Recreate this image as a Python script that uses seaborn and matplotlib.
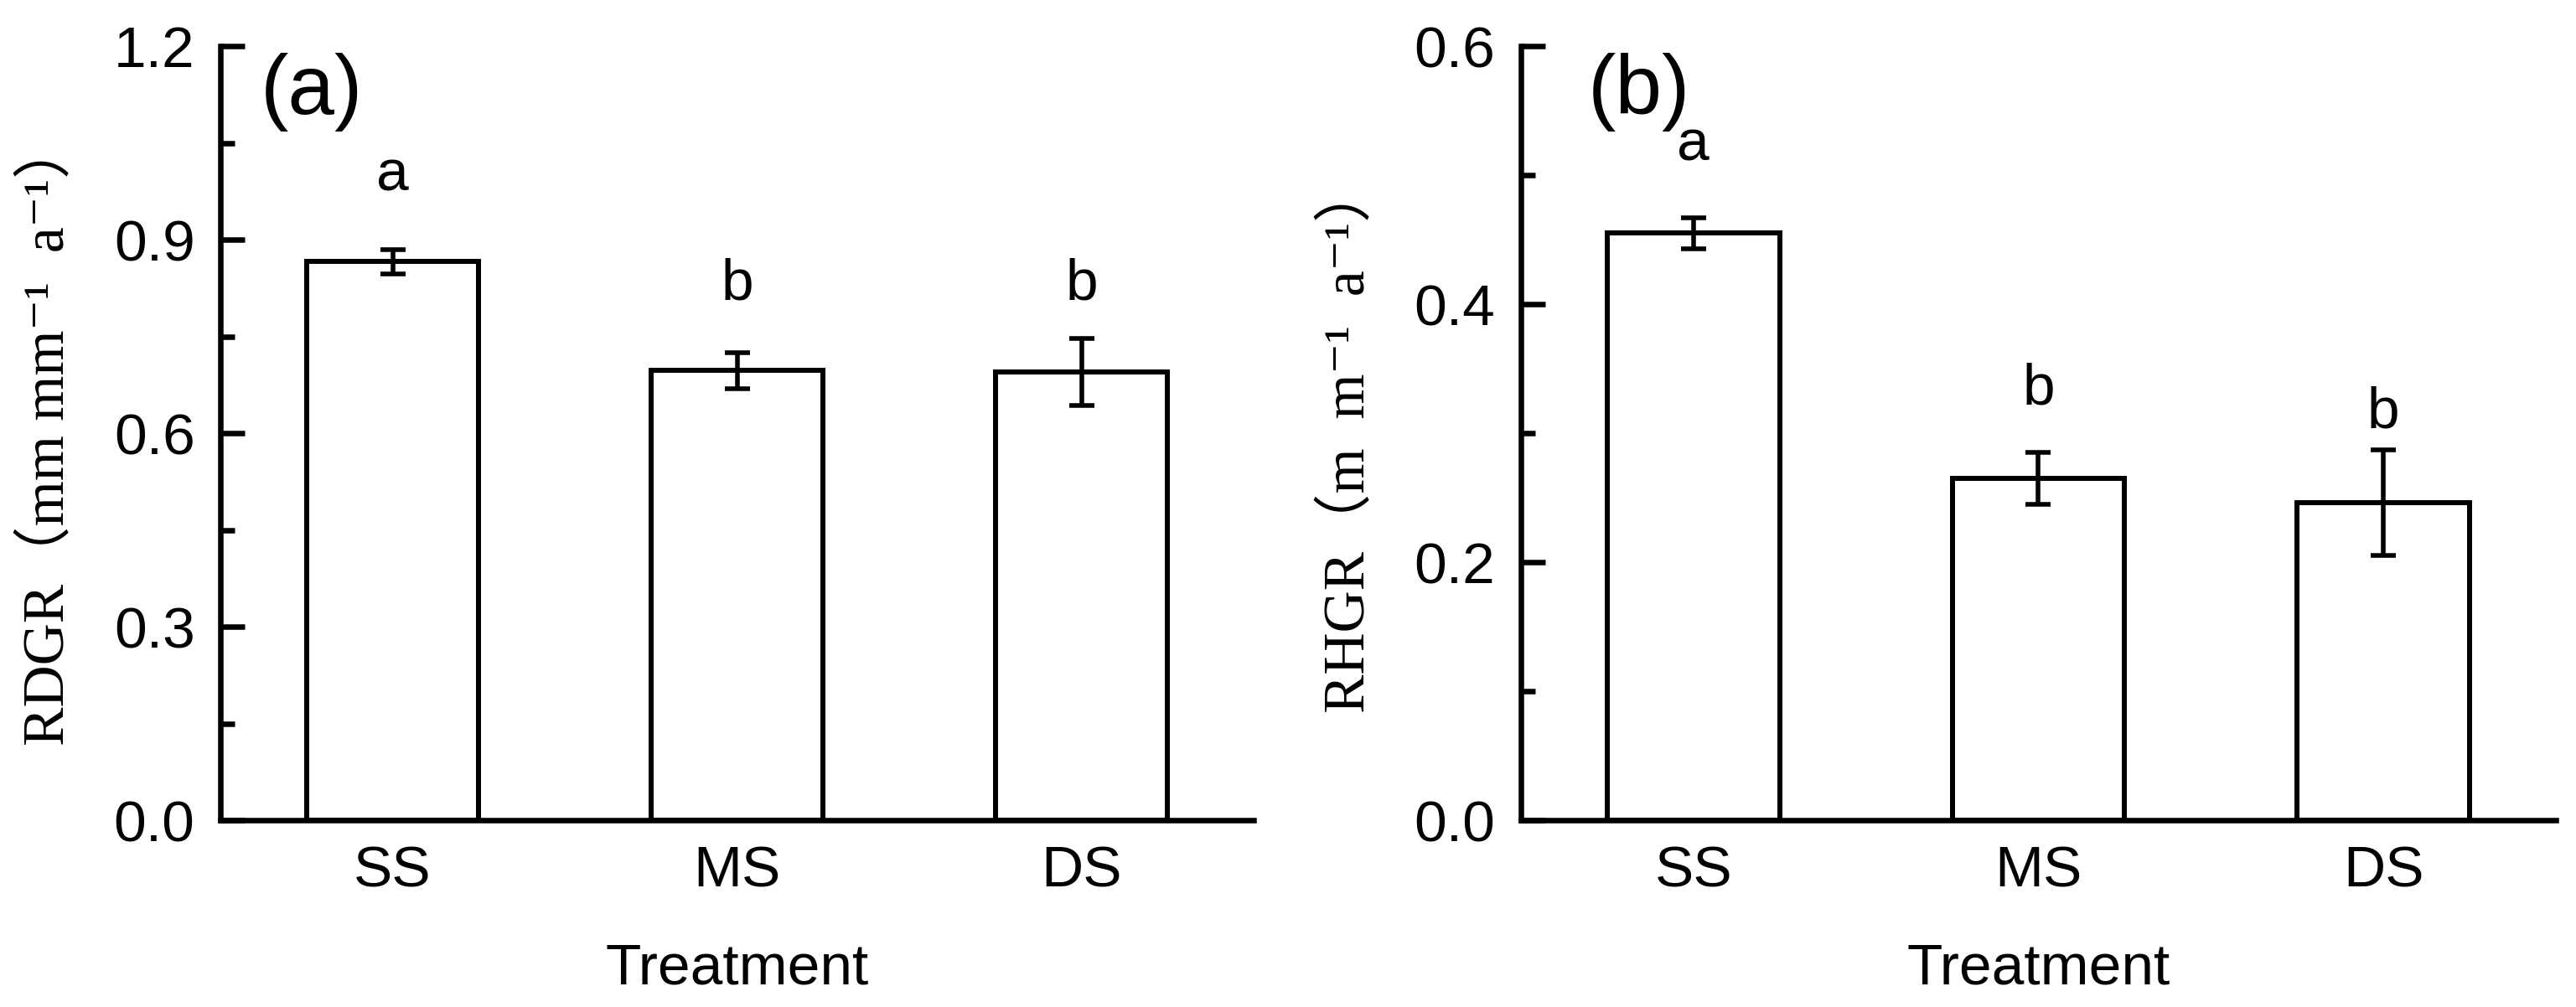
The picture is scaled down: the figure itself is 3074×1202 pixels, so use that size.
import numpy as np
import matplotlib
matplotlib.use("Agg")
import matplotlib.pyplot as plt
from matplotlib.ticker import MultipleLocator, FormatStrFormatter
import seaborn as sns

# 数据
treatments = ["SS", "MS", "DS"]
rdgr_mean = [0.866, 0.697, 0.695]
rdgr_err = [0.019, 0.028, 0.052]
rdgr_letters = ["a", "b", "b"]
rhgr_mean = [0.455, 0.265, 0.246]
rhgr_err = [0.012, 0.020, 0.041]
rhgr_letters = ["a", "b", "b"]

sns.set_style("ticks", rc={"axes.edgecolor": "black", "xtick.color": "black",
                           "ytick.color": "black", "text.color": "black",
                           "axes.labelcolor": "black"})
plt.rcParams['font.family'] = ['Liberation Sans', 'DejaVu Sans']
label_font = ['Liberation Serif', 'Noto Sans CJK SC', 'DejaVu Serif']

fig = plt.figure(figsize=(30.74, 12.02), dpi=100)
ax_a = fig.add_axes([0.0856, 0.1855, 0.4011, 0.7687])
ax_b = fig.add_axes([0.5904, 0.1855, 0.4018, 0.7687])

panels = [
    (ax_a, rdgr_mean, rdgr_err, rdgr_letters, [1.0, 0.83, 0.83], 1.2, 0.3,
     "RDGR（mm mm⁻¹  a⁻¹）", "(a)", 0.088, 0.500),
    (ax_b, rhgr_mean, rhgr_err, rhgr_letters, [0.523, 0.334, 0.316], 0.6, 0.2,
     "RHGR（m  m⁻¹  a⁻¹）", "(b)", 0.114, 0.493),
]

for ax, mean, err, letters, letter_y, ymax, step, ylab, tag, tag_x, lab_y in panels:
    sns.barplot(x=treatments, y=mean, color="white", saturation=1,
                edgecolor="black", linewidth=4.3, width=0.5,
                errorbar=None, ax=ax)
    pos = ax.get_xticks()
    ax.errorbar(pos, mean, yerr=err, fmt="none", ecolor="black",
                elinewidth=4, capsize=11, capthick=4)
    for p, s, ly in zip(pos, letters, letter_y):
        ax.text(p, ly, s, ha="center", va="center", fontsize=50)

    ax.set_xlim(-0.5, 2.5)
    ax.set_ylim(0, ymax)
    ax.yaxis.set_major_locator(MultipleLocator(step))
    ax.yaxis.set_minor_locator(MultipleLocator(step / 2))
    ax.yaxis.set_major_formatter(FormatStrFormatter('%.1f'))

    ax.tick_params(axis="y", which="major", direction="in", length=21,
                   width=4.7, pad=22, labelsize=50)
    ax.tick_params(axis="y", which="minor", direction="in", length=12,
                   width=4.7)
    ax.tick_params(axis="x", length=0, pad=21, labelsize=50)

    for side in ["top", "right"]:
        ax.spines[side].set_visible(False)
    for side in ["left", "bottom"]:
        ax.spines[side].set_linewidth(4.7)

    ax.set_xlabel("Treatment", fontsize=50, labelpad=38)
    ax.set_ylabel(ylab, fontsize=50, family=label_font)
    ax.yaxis.set_label_coords(-0.139, lab_y)

    ax.text(tag_x, 0.94, tag, transform=ax.transAxes, ha="center",
            va="center", fontsize=72)

fig.savefig("out.png", dpi=100, facecolor="white")
